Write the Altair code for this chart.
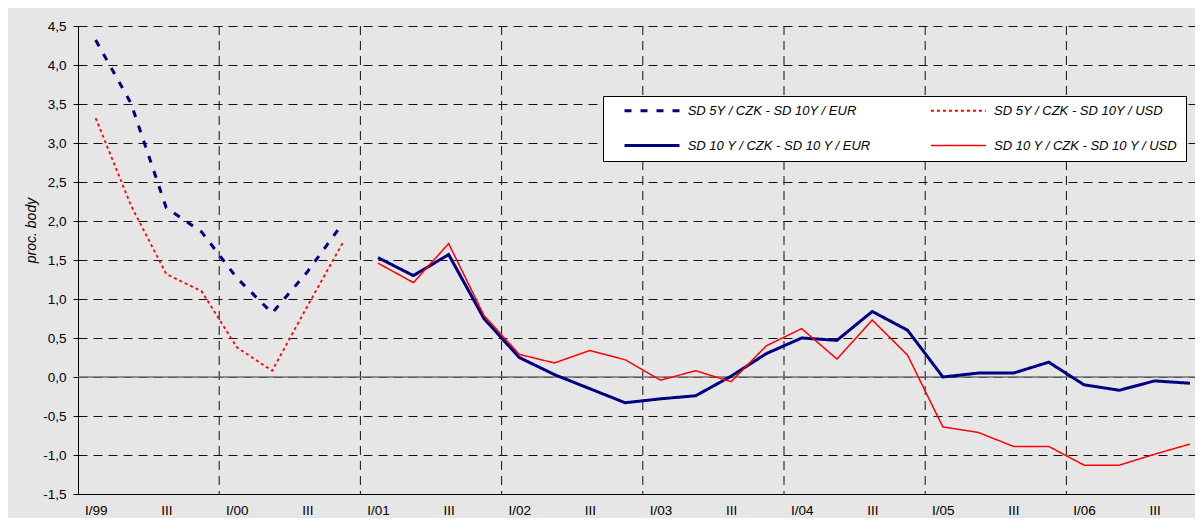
import altair as alt
import pandas as pd

# ---- data ----
quarters = [f"{q}/{y}" for y in ["99", "00", "01", "02", "03", "04", "05", "06"]
            for q in ["I", "II", "III", "IV"]]

x_tick_labels = ["I/99", "III", "I/00", "III", "I/01", "III", "I/02", "III",
                 "I/03", "III", "I/04", "III", "I/05", "III", "I/06", "III"]

S1 = "SD 5Y / CZK - SD 10Y / EUR"
S2 = "SD 5Y / CZK - SD 10Y / USD"
S3 = "SD 10 Y / CZK - SD 10 Y / EUR"
S4 = "SD 10 Y / CZK - SD 10 Y / USD"
# legend fills column by column: (S1, S3) in column 1, (S2, S4) in column 2
legend_order = [S1, S3, S2, S4]
series_colors = ["#000080", "#000080", "#ff0000", "#ff0000"]
series_dashes = [[7, 9], [1, 0], [3, 3], [1, 0]]
series_widths = [3, 3, 1.8, 1.5]

# I/99 - IV/00
eur_5y = [4.32, 3.51, 2.17, 1.86, 1.27, 0.82, 1.35, 1.97]
usd_5y = [3.32, 2.20, 1.32, 1.10, 0.38, 0.08, 0.91, 1.72]
# I/01 - IV/06
eur_10y = [1.53, 1.30, 1.57, 0.75, 0.25, 0.03, -0.15, -0.33, -0.28, -0.24, 0.01, 0.30,
           0.50, 0.47, 0.84, 0.60, 0.00, 0.05, 0.05, 0.19, -0.10, -0.17, -0.05, -0.08]
usd_10y = [1.46, 1.21, 1.71, 0.79, 0.29, 0.18, 0.34, 0.22, -0.04, 0.08, -0.06, 0.40,
           0.62, 0.23, 0.73, 0.28, -0.64, -0.71, -0.89, -0.89, -1.13, -1.13, -0.99, -0.86]

year_bounds = [4, 8, 12, 16, 20, 24, 28]
y_ticks = [-1.5, -1.0, -0.5, 0.0, 0.5, 1.0, 1.5, 2.0, 2.5, 3.0, 3.5, 4.0, 4.5]

rows = []
for name, vals, start in [(S1, eur_5y, 0), (S2, usd_5y, 0), (S3, eur_10y, 8), (S4, usd_10y, 8)]:
    for k, v in enumerate(vals):
        i = start + k
        rows.append({"q": i + 0.5, "quarter": quarters[i], "v": v, "s": name})
df = pd.DataFrame(rows)

FONT = "Liberation Sans"
PLOT_W = 1117
X_MAX = PLOT_W / 35.3  # visible part of the 32 quarters

xscale = alt.Scale(domain=[0, X_MAX], nice=False, zero=False)
yscale = alt.Scale(domain=[-1.5, 4.5], nice=False, zero=False)

label_expr_x = "[" + ",".join(f"'{l}'" for l in x_tick_labels) + "][floor(datum.value / 2)]"

x_axis = alt.Axis(values=[0.5 + 2 * k for k in range(len(x_tick_labels))],
                  labelExpr=label_expr_x, title=None, grid=False, ticks=False,
                  tickSize=0, labelPadding=20, labelBaseline="alphabetic",
                  labelFontSize=13.5, labelColor="#000",
                  labelFont=FONT, domainColor="#000", domainWidth=1,
                  labelFlush=False, labelOverlap=False)

y_axis = alt.Axis(values=y_ticks,
                  labelExpr="replace(replace(format(datum.value, '.1f'), '.', ','), '\u2212', '-')",
                  title="proc. body", titleFontStyle="italic", titleFontWeight="normal",
                  titleFontSize=14, titleFont=FONT, titleColor="#000",
                  titleX=-47, titleY=204, titleAngle=270, titleAlign="center",
                  titleBaseline="middle",
                  grid=True, gridColor="#111", gridDash=[9, 6], gridWidth=1,
                  tickSize=5, tickColor="#000", labelPadding=7, labelFontSize=13.5,
                  labelFont=FONT, labelColor="#000", domainColor="#000",
                  labelOverlap=False, labelFlush=False, labelSeparation=0)

NBSP = "\u00a0" * 16
legend_kw = dict(
    title=None, orient="none", legendX=525, legendY=70, columns=2,
    symbolType="M-5.5,0H5.5", symbolSize=100, symbolOffset=34.5, labelOffset=29.2,
    columnPadding=45.4, rowPadding=21, padding=8,
    labelFont=FONT, labelFontSize=13, labelFontStyle="italic", labelColor="#000",
    labelLimit=600, fillColor="#ffffff", strokeColor="#000000",
    labelExpr=f"indexof(datum.label, 'USD') > 0 ? datum.label + '{NBSP}' : datum.label",
)

lines = alt.Chart(df).mark_line(strokeCap="butt", strokeJoin="miter").encode(
    x=alt.X("q:Q", scale=xscale, axis=x_axis),
    y=alt.Y("v:Q", scale=yscale, axis=y_axis),
    color=alt.Color("s:N", scale=alt.Scale(domain=legend_order, range=series_colors),
                    legend=alt.Legend(**legend_kw)),
    strokeDash=alt.StrokeDash("s:N", scale=alt.Scale(domain=legend_order, range=series_dashes),
                              legend=alt.Legend(**legend_kw)),
    strokeWidth=alt.StrokeWidth("s:N", scale=alt.Scale(type="ordinal", domain=legend_order,
                                                       range=series_widths),
                                legend=alt.Legend(**legend_kw)),
    detail="s:N",
)

vgrid = alt.Chart(pd.DataFrame({"b": year_bounds})).mark_rule(
    color="#111", strokeDash=[9, 6], strokeWidth=1
).encode(x=alt.X("b:Q", scale=xscale, axis=x_axis))

zero_line = alt.Chart(pd.DataFrame({"z": [0.0]})).mark_rule(
    color="#707070", strokeWidth=1.6
).encode(y=alt.Y("z:Q", scale=yscale, axis=y_axis))

chart = alt.layer(vgrid, zero_line, lines).properties(
    width=PLOT_W, height=468,
    autosize=alt.AutoSizeParams(type="none"),
    padding={"left": 70, "top": 18, "right": 0, "bottom": 24},
    background="#e6e6e6",
).configure_view(fill="#ffffff", stroke=None).configure_axis(
    labelOverlap=False
).configure(font=FONT)

chart.save("out.html", embed_options={"renderer": "svg", "actions": False})
